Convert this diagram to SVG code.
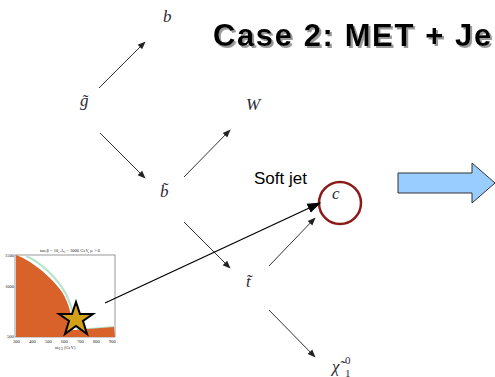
<svg xmlns="http://www.w3.org/2000/svg" width="495" height="377" viewBox="0 0 495 377">
<defs>
<style>
.m{font-family:"Liberation Serif","DejaVu Serif",serif;font-style:italic;font-size:17px;fill:#2b2b38}
.s{font-family:"Liberation Serif","DejaVu Serif",serif;font-size:11px;fill:#2b2b38}
.tt{font-family:"Liberation Serif",serif;font-size:4.5px;fill:#222}
.c{stroke:#333;stroke-width:1;fill:none;marker-end:url(#ah)}
</style>
<filter id="sh" x="-5%" y="-20%" width="115%" height="150%">
<feDropShadow dx="2" dy="2" stdDeviation="0.6" flood-color="#999" flood-opacity="1"/>
</filter>
<marker id="ah" viewBox="0 0 10 10" refX="9" refY="5" markerWidth="8" markerHeight="8" markerUnits="userSpaceOnUse" orient="auto"><path d="M0,1 L10,5 L0,9 z" fill="#222"/></marker>
<marker id="ahb" viewBox="0 0 10 10" refX="9" refY="5" markerWidth="14" markerHeight="14" markerUnits="userSpaceOnUse" orient="auto"><path d="M0,1.5 L10,5 L0,8.5 z" fill="#000"/></marker>
</defs>
<rect width="495" height="377" fill="#fff"/>
<g id="title">
<text x="213" y="46" font-family="Liberation Sans,Arial,sans-serif" font-weight="bold" font-size="31" letter-spacing="1.6" fill="#000" filter="url(#sh)">Case 2: MET + Je</text>
</g>
<g id="plot">
<rect x="15" y="255" width="100" height="82" fill="#fff" stroke="#555" stroke-width="0.6"/>
<path d="M26,256 C40,262 58,278 67,296 C73,310 76,322 78,330 L114,327" fill="none" stroke="#b5e3cc" stroke-width="2.2"/>
<path d="M16,255 C30,260 50,275 62,292 C70,305 72,318 73,330 L75,330 L114,327 L115,337 L16,337 z" fill="#d9622b"/>
<polygon points="76,302 80,314 93,314 83,321 87,334 76,326 65,334 69,321 59,314 72,314" fill="#d4a017" stroke="#000" stroke-width="2" stroke-linejoin="miter"/>
<text class="tt" x="40" y="252">tan β = 10,  A₀ = 3000 GeV,  μ &gt; 0</text>
<text class="tt" x="5" y="257">1500</text>
<text class="tt" x="5" y="288">1000</text>
<text class="tt" x="7" y="338">500</text>
<text class="tt" x="13" y="343">300</text>
<text class="tt" x="29" y="343">400</text>
<text class="tt" x="45" y="343">500</text>
<text class="tt" x="61" y="343">600</text>
<text class="tt" x="77" y="343">700</text>
<text class="tt" x="93" y="343">800</text>
<text class="tt" x="109" y="343">900</text>
<text class="tt" x="55" y="349" font-size="5.5">m<tspan font-size="3.5" dy="1">1/2</tspan><tspan dy="-1"> (GeV)</tspan></text>
</g>
<g id="n-b"><text class="m" x="163" y="22">b</text></g>
<g id="n-gluino"><text class="m" x="80" y="106">g̃</text></g>
<g id="n-W"><text class="m" x="246" y="110">W</text></g>
<g id="n-sbottom"><text class="m" x="160" y="197">b̃</text></g>
<g id="n-softjet"><text x="254" y="184" font-family="Liberation Sans,Arial,sans-serif" font-size="17" fill="#000">Soft jet</text></g>
<g id="n-c"><circle cx="340" cy="203" r="21" fill="none" stroke="#8b1a1a" stroke-width="2.5"/><text class="m" x="332" y="199">c</text></g>
<g id="n-stop"><text class="m" x="246" y="287">t̃</text></g>
<g id="n-chi"><text class="m" x="332" y="372">χ̃</text><text class="s" x="345" y="364">0</text><text class="s" x="345" y="377">1</text></g>
<g id="blockarrow"><path d="M398,173 L472,173 L472,163 L495,183 L472,203 L472,193 L398,193 z" fill="#99ccff" stroke="#333" stroke-width="1"/></g>
<g id="connectors">
<line class="c" x1="99" y1="88" x2="145" y2="42"/>
<line class="c" x1="100" y1="133" x2="145" y2="178"/>
<line class="c" x1="184" y1="177" x2="230" y2="130"/>
<line class="c" x1="184" y1="222" x2="230" y2="268"/>
<line class="c" x1="269" y1="266" x2="315" y2="218"/>
<line class="c" x1="269" y1="310" x2="315" y2="357"/>
<line x1="105" y1="303" x2="320" y2="203" stroke="#000" stroke-width="1.3" marker-end="url(#ahb)"/>
</g>
</svg>
